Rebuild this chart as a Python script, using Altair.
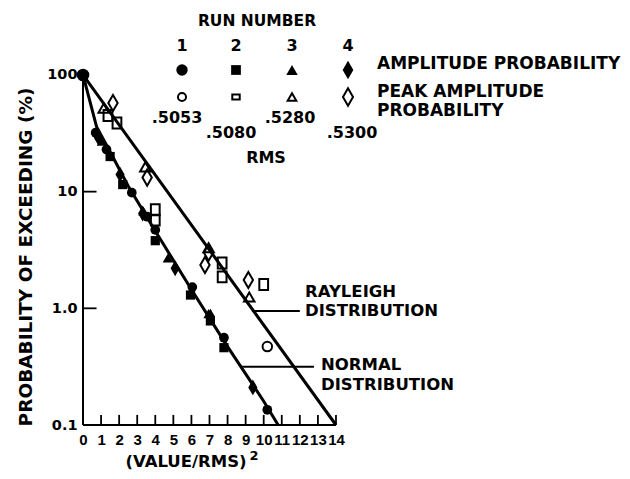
import altair as alt
import pandas as pd

# ---------------- data ----------------
# theoretical curves (x = (value/rms)^2, y = probability of exceeding, %)
normal_x = [0, 0.75, 1.5, 2.5, 4.0, 6.0, 8.0, 10.0, 10.8]
normal_y = [100, 36, 22, 11.2, 4.6, 1.45, 0.47, 0.16, 0.1]
rayleigh_x = [0, 14]
rayleigh_y = [100, 0.1]

# amplitude probability (filled symbols), runs 1-4
amp1_x = [0, 0.7, 1.3, 2.7, 3.55, 4.0, 6.05, 7.8, 10.2]
amp1_y = [100, 32, 23, 9.8, 6.1, 4.7, 1.52, 0.56, 0.135]
amp2_x = [1.5, 2.2, 4.0, 5.95, 7.05, 7.8]
amp2_y = [20, 11.5, 3.8, 1.3, 0.78, 0.46]
amp3_x = [1.05, 3.35, 4.7, 6.95]
amp3_y = [27, 6.8, 2.7, 0.9]
amp4_x = [0.85, 2.05, 3.3, 5.1, 7.05, 9.4]
amp4_y = [29, 14, 6.5, 2.2, 0.85, 0.21]

# peak amplitude probability (open symbols), runs 1-4
peak1_x = [10.2]
peak1_y = [0.47]
peak2_x = [1.38, 1.88, 4.0, 4.0, 7.7, 7.7, 10.0]
peak2_y = [45, 38.8, 7.0, 5.7, 2.45, 1.86, 1.6]
peak3_x = [1.15, 3.45, 6.95, 9.2]
peak3_y = [52, 16.3, 3.3, 1.25]
peak4_x = [1.66, 3.55, 6.95, 6.75, 9.15]
peak4_y = [57.5, 13.2, 3.0, 2.35, 1.75]

run_labels = ["1", "2", "3", "4"]
rms_labels = [".5053", ".5080", ".5280", ".5300"]
x_tick_values = list(range(0, 15))
y_tick_values = [0.1, 1, 10, 100]
y_inner_ticks = [1, 10]

# ---------------- layout ----------------
W, H = 539, 417            # plot area (view) in px
OX, OY = 83, 8             # view origin on the page
FONT = "DejaVu Sans"
X_DOMAIN = [0, W / 18.07]
Y_DOMAIN = [0.1, 375]

def px(x):
    return x - OX

def py(y):
    return y - OY

def X(field="x"):
    return alt.X(f"{field}:Q", scale=alt.Scale(domain=X_DOMAIN, nice=False, zero=False),
                 axis=alt.Axis(values=x_tick_values, title=None, grid=False, domain=False,
                               ticks=False, labelFont="Liberation Sans", labelFontSize=15,
                               labelFontWeight="bold", labelPadding=7, labelOverlap=False,
                               labelColor="black", labelFlush=False))

def Y(field="y"):
    return alt.Y(f"{field}:Q", scale=alt.Scale(type="log", domain=Y_DOMAIN, nice=False),
                 axis=alt.Axis(values=y_tick_values, title=None, grid=False, domain=False,
                               ticks=False, labelFont=FONT, labelFontSize=14.5,
                               labelFontWeight="bold", labelPadding=6, labelColor="black",
                               labelExpr="datum.value == 1 ? '1.0' : datum.label"))

layers = []

# curves
curves = pd.DataFrame({
    "x": normal_x + rayleigh_x,
    "y": normal_y + rayleigh_y,
    "curve": ["normal"] * len(normal_x) + ["rayleigh"] * len(rayleigh_x),
})
layers.append(alt.Chart(curves).mark_line(color="black", strokeWidth=3).encode(
    x=X(), y=Y(), detail="curve:N"))

# axis frame
frame = pd.DataFrame({"x": [0, 0], "y": [0.1, 0.1], "x2": [0, 14], "y2": [100, 0.1]})
layers.append(alt.Chart(frame).mark_rule(color="black", strokeWidth=2).encode(
    x=X(), y=Y(), x2="x2:Q", y2="y2:Q"))

# inner ticks
xt = pd.DataFrame({"x": x_tick_values[1:], "y": [0.1] * 14, "y2": [0.122] * 14})
layers.append(alt.Chart(xt).mark_rule(color="black", strokeWidth=1.8).encode(
    x=X(), y=Y(), y2="y2:Q"))
yt = pd.DataFrame({"x": [0, 0], "x2": [0.75, 0.75], "y": y_inner_ticks})
layers.append(alt.Chart(yt).mark_rule(color="black", strokeWidth=1.8).encode(
    x=X(), x2="x2:Q", y=Y()))

TALL_DIAMOND = "M0,-1L0.58,0L0,1L-0.58,0Z"
TALL_RECT = "M-0.8,-1L0.8,-1L0.8,1L-0.8,1Z"
WIDE_RECT = "M-1,-0.7L1,-0.7L1,0.7L-1,0.7Z"

def pts(xs, ys, shape, size, filled):
    df = pd.DataFrame({"x": xs, "y": ys})
    if filled:
        m = alt.Chart(df).mark_point(shape=shape, size=size, filled=True, color="black", opacity=1)
    else:
        m = alt.Chart(df).mark_point(shape=shape, size=size, filled=False, color="black",
                                     strokeWidth=2, opacity=1)
    return m.encode(x=X(), y=Y())

layers.append(pts(peak1_x, peak1_y, "circle", 90, False))
layers.append(pts(peak2_x, peak2_y, TALL_RECT, 120, False))
layers.append(pts(peak3_x, peak3_y, "triangle-up", 110, False))
layers.append(pts(peak4_x, peak4_y, TALL_DIAMOND, 260, False))
layers.append(pts(amp1_x[:1], amp1_y[:1], "circle", 160, True))
layers.append(pts(amp1_x[1:], amp1_y[1:], "circle", 95, True))
layers.append(pts(amp2_x, amp2_y, "square", 85, True))
layers.append(pts(amp3_x, amp3_y, "triangle-up", 110, True))
layers.append(pts(amp4_x, amp4_y, TALL_DIAMOND, 250, True))

# annotation leaders (data coords)
lead = pd.DataFrame({"x": [9.35, 8.74], "x2": [12.0, 12.78], "y": [0.95, 0.315]})
layers.append(alt.Chart(lead).mark_rule(color="black", strokeWidth=2).encode(
    x=X(), x2="x2:Q", y=Y()))

def txt(s, x, y, size=16, align="left", angle=0):
    kw = dict(text=s, font=FONT, fontSize=size, fontWeight="bold", color="black",
              align=align, baseline="middle")
    if angle:
        kw["angle"] = angle
    return alt.Chart(pd.DataFrame({"a": [0]})).mark_text(**kw).encode(
        x=alt.value(px(x)), y=alt.value(py(y)))

layers.append(txt("RAYLEIGH", 305, 292, size=16.5))
layers.append(txt("DISTRIBUTION", 305, 311, size=16.5))
layers.append(txt("NORMAL", 321, 365, size=16.5))
layers.append(txt("DISTRIBUTION", 321, 385, size=16.5))

# axis titles
layers.append(txt("PROBABILITY OF EXCEEDING  (%)", 26, 257, size=18.5, align="center", angle=270))
layers.append(txt("(VALUE/RMS)", 186, 462, size=16.5, align="center"))
layers.append(txt("2", 254, 456, size=13, align="center"))

# legend
col_x = [182, 236, 292, 348]
layers.append(txt("RUN NUMBER", 257, 21, size=15.5, align="center"))
for i, lab in enumerate(run_labels):
    layers.append(txt(lab, col_x[i], 46, size=16, align="center"))
filled_shapes = [("circle", 130), ("square", 95), ("triangle-up", 130), (TALL_DIAMOND, 340)]
open_shapes = [("circle", 65), (WIDE_RECT, 55), ("triangle-up", 75), (TALL_DIAMOND, 300)]
one = pd.DataFrame({"a": [0]})
for i in range(4):
    s, sz = filled_shapes[i]
    layers.append(alt.Chart(one).mark_point(shape=s, size=sz, filled=True, color="black",
                                            opacity=1).encode(
        x=alt.value(px(col_x[i])), y=alt.value(py(70))))
    s, sz = open_shapes[i]
    layers.append(alt.Chart(one).mark_point(shape=s, size=sz, filled=False, color="black",
                                            strokeWidth=2, opacity=1).encode(
        x=alt.value(px(col_x[i])), y=alt.value(py(97))))
layers.append(txt("AMPLITUDE PROBABILITY", 377, 64, size=17))
layers.append(txt("PEAK AMPLITUDE", 377, 92, size=17))
layers.append(txt("PROBABILITY", 377, 111, size=17))
rms_x = [177, 231, 290, 352]
rms_y = [118, 133, 118, 133]
for i, lab in enumerate(rms_labels):
    layers.append(txt(lab, rms_x[i], rms_y[i], size=16, align="center"))
layers.append(txt("RMS", 266, 158, size=16, align="center"))

chart = alt.layer(*layers).properties(
    width=W, height=H,
    autosize=alt.AutoSizeParams(type="none"),
    padding={"left": 75, "top": 0, "right": 0, "bottom": 46},
    background="white",
).configure_view(stroke=None)

chart.save("out.html", embed_options={"renderer": "svg", "actions": False})
